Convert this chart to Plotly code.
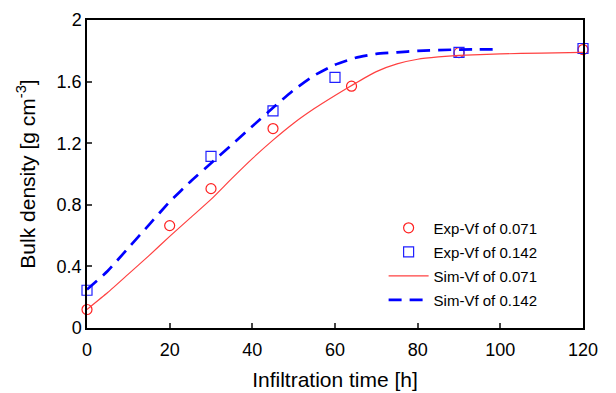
import plotly.graph_objects as go

# Experimental data
exp_x_071 = [0, 20, 30, 45, 64, 90, 120]
exp_y_071 = [0.12, 0.665, 0.905, 1.295, 1.57, 1.788, 1.808]
exp_x_142 = [0, 30, 45, 60, 90, 120]
exp_y_142 = [0.245, 1.115, 1.41, 1.628, 1.79, 1.815]

# Simulation curves
sim_x_071 = [0, 5, 10, 15, 20, 25, 30, 35, 40, 45, 50, 55, 60, 65, 70, 75, 80, 85, 90, 100, 110, 120]
sim_y_071 = [0.12, 0.23, 0.35, 0.47, 0.595, 0.715, 0.835, 0.97, 1.10, 1.22, 1.33, 1.425, 1.51, 1.59, 1.665, 1.715, 1.745, 1.76, 1.77, 1.78, 1.785, 1.79]
sim_x_142 = [0, 5, 10, 15, 20, 25, 30, 35, 40, 45, 50, 55, 60, 65, 70, 75, 80, 90, 100]
sim_y_142 = [0.25, 0.37, 0.52, 0.67, 0.82, 0.95, 1.07, 1.19, 1.31, 1.43, 1.545, 1.64, 1.71, 1.755, 1.78, 1.79, 1.80, 1.808, 1.81]

xticks = [0, 20, 40, 60, 80, 100, 120]
yticks = [0, 0.4, 0.8, 1.2, 1.6, 2]
ytick_text = ["0", "0.4", "0.8", "1.2", "1.6", "2"]

fig = go.Figure()
fig.add_trace(go.Scatter(x=exp_x_071, y=exp_y_071, mode="markers", name="Exp-Vf of 0.071",
                         legendgroup="a",
                         marker=dict(symbol="circle-open", size=10, color="#ff2020", line=dict(width=1.2)),
                         cliponaxis=False))
fig.add_trace(go.Scatter(x=exp_x_142, y=exp_y_142, mode="markers", name="Exp-Vf of 0.142",
                         legendgroup="b",
                         marker=dict(symbol="square-open", size=10, color="#2020ff", line=dict(width=1.2)),
                         cliponaxis=False))
fig.add_trace(go.Scatter(x=sim_x_071, y=sim_y_071, mode="lines", name="Sim-Vf of 0.071",
                         legendgroup="c",
                         line=dict(color="#ff4040", width=1.2, shape="spline", smoothing=0.5)))
fig.add_trace(go.Scatter(x=sim_x_142, y=sim_y_142, mode="lines", name="Sim-Vf of 0.142",
                         legendgroup="d",
                         line=dict(color="#0000ff", width=2.7, dash="13px,8px", shape="spline", smoothing=0.4)))

font_family = "Liberation Sans, Arial, sans-serif"
fig.update_layout(
    width=616, height=393,
    margin=dict(l=87, r=33, t=20, b=65),
    plot_bgcolor="white", paper_bgcolor="white",
    font=dict(family=font_family, color="black"),
    showlegend=True,
    legend=dict(x=0.598, y=0.378, xanchor="left", yanchor="top",
                bgcolor="rgba(0,0,0,0)", font=dict(size=15, family=font_family),
                tracegroupgap=1.5, itemwidth=40),
)
fig.update_xaxes(range=[0, 120], tickvals=xticks, ticks="inside", ticklen=5, tickwidth=1.5,
                 showline=True, linewidth=1.5, linecolor="black", mirror=True, showgrid=False,
                 zeroline=False, tickfont=dict(size=18), ticklabelstandoff=5, automargin=False,
                 title=dict(text="Infiltration time [h]", font=dict(size=21), standoff=13))
fig.update_yaxes(range=[0, 2], tickvals=yticks, ticktext=ytick_text, ticks="inside", ticklen=5, tickwidth=1.5,
                 showline=True, linewidth=1.5, linecolor="black", mirror=True, showgrid=False,
                 zeroline=False, tickfont=dict(size=18), automargin=False,
                 title=dict(text="Bulk density [g cm<sup>-3</sup>]", font=dict(size=21), standoff=15))

fig.write_html("out.html")
